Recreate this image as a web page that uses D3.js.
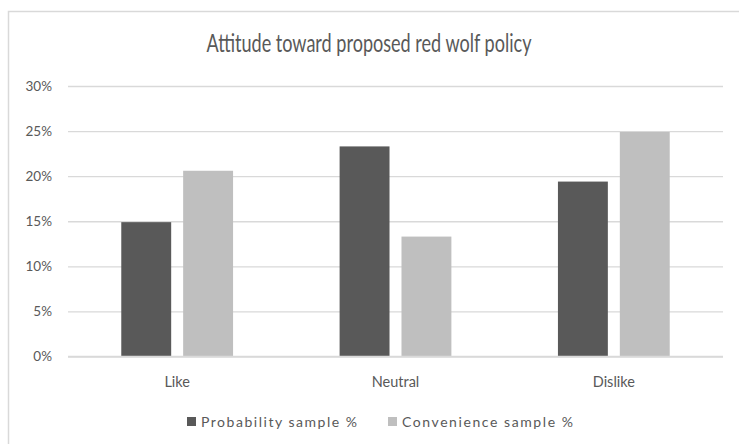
<!DOCTYPE html>
<html>
<head>
<meta charset="utf-8">
<script src="https://cdn.jsdelivr.net/npm/d3@7"></script>
<style>
  html, body { margin: 0; padding: 0; background: #fff; }
  svg { display: block; }
  text { font-family: Lato, "Open Sans", sans-serif; fill: #595959; }
</style>
</head>
<body>
<svg id="chart" width="739" height="444"></svg>
<script>
// Survey responses, share of each sample
const categories = ["Like", "Neutral", "Dislike"];
const seriesNames = ["Probability sample %", "Convenience sample %"];
const probability = [0.149, 0.233, 0.194];
const convenience = [0.206, 0.133, 0.249];
const yTicks = [0, 0.05, 0.10, 0.15, 0.20, 0.25, 0.30];
const titleText = "Attitude toward proposed red wolf policy";

const colors = ["#595959", "#bfbfbf"];
const seriesValues = [probability, convenience];

const svg = d3.select("#chart");
const W = 739, H = 444;
const plot = { left: 68, right: 723, top: 86, bottom: 356.5 };

// chart frame
svg.append("rect")
  .attr("x", 8.5).attr("y", 11.5)
  .attr("width", W).attr("height", H)
  .attr("fill", "#fff")
  .attr("stroke", "#d9d9d9").attr("stroke-width", 1.5);

const y = d3.scaleLinear().domain([0, 0.30]).range([plot.bottom, plot.top]);

const x0 = d3.scaleBand()
  .domain(categories)
  .range([plot.left, plot.right])
  .paddingInner(0.488)
  .paddingOuter(0.244);

const x1 = d3.scaleBand()
  .domain(d3.range(seriesNames.length))
  .range([0, x0.bandwidth()])
  .paddingInner(0.1935);

// horizontal gridlines + percent labels
const yAxis = d3.axisLeft(y)
  .tickValues(yTicks)
  .tickFormat(d3.format(".0%"))
  .tickSize(-(plot.right - plot.left))
  .tickPadding(16);

const gy = svg.append("g")
  .attr("transform", `translate(${plot.left},0)`)
  .call(yAxis);
gy.select(".domain").remove();
gy.selectAll(".tick line").attr("stroke", "#d9d9d9").attr("stroke-width", 1.3);
gy.selectAll(".tick text")
  .attr("fill", "#595959")
  .style("font-size", "13.5px");

// bars
const groups = svg.append("g").selectAll("g")
  .data(categories)
  .join("g")
  .attr("transform", d => `translate(${x0(d)},0)`);

groups.selectAll("rect")
  .data((d, i) => seriesValues.map((vals, s) => ({ s, v: vals[i] })))
  .join("rect")
  .attr("x", d => x1(d.s))
  .attr("width", x1.bandwidth())
  .attr("y", d => y(d.v))
  .attr("height", d => y(0) - y(d.v))
  .attr("fill", d => colors[d.s]);

// baseline redrawn above bars
svg.append("line")
  .attr("x1", plot.left).attr("x2", plot.right)
  .attr("y1", y(0)).attr("y2", y(0))
  .attr("stroke", "#d9d9d9").attr("stroke-width", 1.3);

// category labels
const xAxis = d3.axisBottom(x0).tickSize(0).tickPadding(20);
const gx = svg.append("g")
  .attr("transform", `translate(0,${plot.bottom})`)
  .call(xAxis);
gx.select(".domain").remove();
gx.selectAll(".tick text")
  .attr("fill", "#595959")
  .style("font-size", "14.5px");

// title
svg.append("text")
  .attr("x", 369).attr("y", 52)
  .attr("text-anchor", "middle")
  .attr("textLength", 325)
  .attr("lengthAdjust", "spacingAndGlyphs")
  .style("font-size", "25px")
  .text(titleText);

// legend
const legendX = [187, 388];
const legendLen = [156, 171];
const legend = svg.append("g").selectAll("g")
  .data(seriesNames)
  .join("g")
  .attr("transform", (d, i) => `translate(${legendX[i]},417)`);
legend.append("rect")
  .attr("width", 9).attr("height", 9)
  .attr("fill", (d, i) => colors[i]);
legend.append("text")
  .attr("x", 14).attr("y", 10)
  .attr("textLength", (d, i) => legendLen[i])
  .attr("lengthAdjust", "spacing")
  .style("font-size", "14px")
  .text(d => d);
</script>
</body>
</html>
